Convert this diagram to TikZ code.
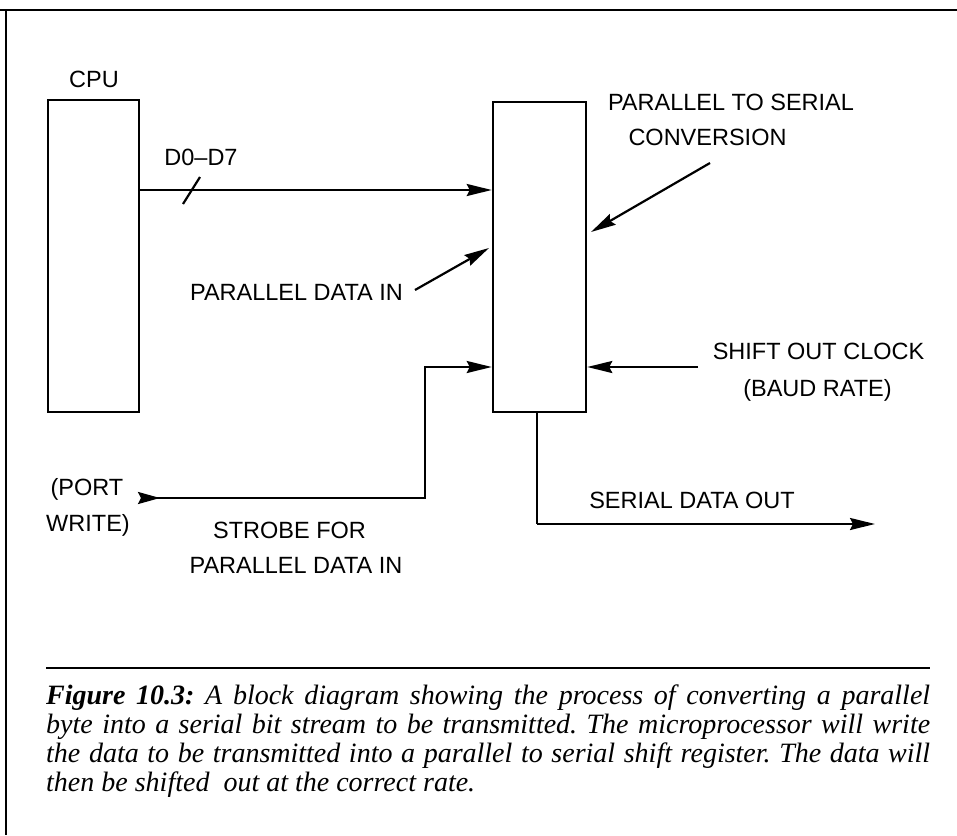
\documentclass[tikz,border=0pt]{standalone}
\usepackage{fontspec}
\setmainfont{Liberation Serif}
\setsansfont{Liberation Sans}
\usetikzlibrary{arrows.meta}
\begin{document}
\begin{tikzpicture}[x=1pt,y=-1pt,
  box/.style={draw, line width=2.5pt, inner sep=0pt},
  lab/.style={font=\sffamily\fontsize{23.5}{28}\selectfont, inner sep=0pt, anchor=base},
  wire/.style={line width=2.2pt},
  arr/.style={wire, -{Stealth[length=25pt,width=12pt,inset=3pt]}},
  frame/.style={line width=2.2pt}
]
\useasboundingbox (0,0) rectangle (957,835);
% frame
\coordinate (ftl) at (6,10);
\coordinate (ftr) at (957,10);
\coordinate (fbl) at (6,835);
\coordinate (ftl0) at (0,10);
\draw[frame] (ftl0) -- (ftr);
\draw[frame] (ftl) -- (fbl);

% boxes
\node[box, minimum width=91pt, minimum height=312pt] (cpu) at (93.5,256) {};
\node[box, minimum width=93pt, minimum height=310pt] (conv) at (539.5,257) {};

% labels
\node[lab] (lcpu) at (94,87) {CPU};
\node[lab] (ld) at (201,165) {D0--D7};
\node[lab] (lpdi) at (296.5,300) {PARALLEL DATA IN};
\node[lab] (lpts) at (731,110) {PARALLEL TO SERIAL};
\node[lab] (lconv) at (707.5,145.5) {CONVERSION};
\node[lab] (lsoc) at (818.5,359) {SHIFT OUT CLOCK};
\node[lab] (lbaud) at (817.5,396) {(BAUD RATE)};
\node[lab] (lport) at (87,495) {(PORT};
\node[lab] (lwrite) at (88,531.5) {WRITE)};
\node[lab] (lstrobe) at (289.5,538) {STROBE FOR};
\node[lab] (lpdi2) at (296,573) {PARALLEL DATA IN};
\node[lab] (lsdo) at (692,508) {SERIAL DATA OUT};

% D0-D7 bus
\coordinate (dy) at (0,190);
\draw[arr] (cpu.east |- dy) -- (conv.west |- dy);
\coordinate (s1) at (183,204);
\coordinate (s2) at (200,177);
\draw[wire] (s1) -- (s2);

% pointer arrows
\coordinate (pdiS) at (415,290);
\coordinate (pdiT) at (489,248);
\draw[arr] (pdiS) -- (pdiT);
\coordinate (ptsS) at (710,163);
\coordinate (ptsT) at (591,232);
\draw[arr] (ptsS) -- (ptsT);

% shift out clock
\coordinate (clkS) at (698,367);
\draw[arr] (clkS) -- (conv.east |- clkS);

% strobe
\coordinate (stS) at (138,498);
\coordinate (stC) at (425,498);
\coordinate (stY) at (0,367);
\draw[wire, {Stealth[reversed,length=22pt,width=12pt,inset=3pt]}-{Stealth[length=25pt,width=12pt,inset=3pt]}]
  (stS) -- (stC) -- (stC |- stY) -- (conv.west |- stY);

% serial out
\coordinate (soX) at (537,0);
\coordinate (soC) at (537,524);
\coordinate (soE) at (875,524);
\draw[wire] (conv.south -| soX) -- (soC);
\draw[arr] (soC) -- (soE);

% caption rule
\coordinate (r1) at (46,668);
\coordinate (r2) at (930,668);
\draw[line width=2pt] (r1) -- (r2);

\node[anchor=base west, inner sep=0pt, text width=884pt, align=justify,
  font=\rmfamily\itshape\fontsize{28}{29.3}\selectfont] (cap) at (46,704)
{\frenchspacing\textbf{Figure 10.3:} A block diagram showing the process of converting a parallel\linebreak
byte into a serial bit stream to be transmitted. The microprocessor will write\linebreak
the data to be transmitted into a parallel to serial shift register. The data will\linebreak
then be shifted\ \ out at the correct rate.\par};
\end{tikzpicture}
\end{document}
